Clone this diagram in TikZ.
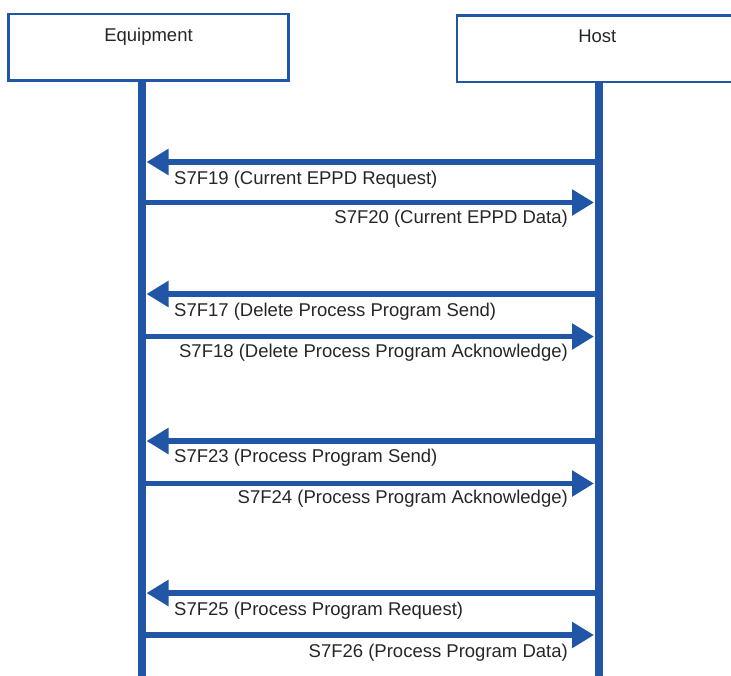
\documentclass[tikz,border=0pt]{standalone}
\usepackage{fontspec}
\setmainfont{Liberation Sans}
\usetikzlibrary{positioning,arrows.meta}
\definecolor{seqblue}{RGB}{33,85,165}
\definecolor{seqtext}{RGB}{38,38,38}

\begin{document}
\begin{tikzpicture}[x=1pt, y=-1pt,
  party/.style={draw=seqblue, line width=2.6pt, fill=white, minimum width=280.4pt, inner sep=0pt,
    text height=27pt, text depth=39.7pt, anchor=base, text=seqtext, font=\fontsize{18.5}{22}\selectfont},
  life/.style={draw=seqblue, line width=7.6pt},
  msg/.style={draw=seqblue, line width=5.6pt, -{Triangle[length=22pt, width=25pt]}},
  msglab/.style={font=\fontsize{18.5}{22}\selectfont, text=seqtext, inner sep=0pt}]
\useasboundingbox (0,0) rectangle (731,675);
\node[party] (equip) at (148.5,41) {Equipment};
\node[party] (host) at (597.3,42.3) {Host};
\coordinate (eqtop) at (142,80.7);
\coordinate (eqbot) at (142,680);
\coordinate (hotop) at (599,82.7);
\coordinate (hobot) at (599,680);
\draw[life] (eqtop) -- (eqbot);
\draw[life] (hotop) -- (hobot);
% S7F19 / S7F20
\coordinate (ho19) at (599,162);
\coordinate (eq19) at (146.5,162);
\coordinate (eq20) at (142,202.5);
\coordinate (ho20) at (594,202.5);
\draw[msg] (ho19) -- (eq19);
\draw[msg] (eq20) -- (ho20);
\node[msglab, anchor=base west] (l19) at (174,184) {S7F19 (Current EPPD Request)};
\node[msglab, anchor=base east] (l20) at (568,223.5) {S7F20 (Current EPPD Data)};
% S7F17 / S7F18
\coordinate (ho17) at (599,294);
\coordinate (eq17) at (146.5,294);
\coordinate (eq18) at (142,336.5);
\coordinate (ho18) at (594,336.5);
\draw[msg] (ho17) -- (eq17);
\draw[msg] (eq18) -- (ho18);
\node[msglab, anchor=base west] (l17) at (174,316) {S7F17 (Delete Process Program Send)};
\node[msglab, anchor=base east] (l18) at (568,357.5) {S7F18 (Delete Process Program Acknowledge)};
% S7F23 / S7F24
\coordinate (ho23) at (599,441);
\coordinate (eq23) at (146.5,441);
\coordinate (eq24) at (142,483.5);
\coordinate (ho24) at (594,483.5);
\draw[msg] (ho23) -- (eq23);
\draw[msg] (eq24) -- (ho24);
\node[msglab, anchor=base west] (l23) at (174,462.5) {S7F23 (Process Program Send)};
\node[msglab, anchor=base east] (l24) at (568,503.5) {S7F24 (Process Program Acknowledge)};
% S7F25 / S7F26
\coordinate (ho25) at (599,593);
\coordinate (eq25) at (146.5,593);
\coordinate (eq26) at (142,635);
\coordinate (ho26) at (594,635);
\draw[msg] (ho25) -- (eq25);
\draw[msg] (eq26) -- (ho26);
\node[msglab, anchor=base west] (l25) at (174,615) {S7F25 (Process Program Request)};
\node[msglab, anchor=base east] (l26) at (568,657) {S7F26 (Process Program Data)};
\end{tikzpicture}
\end{document}
